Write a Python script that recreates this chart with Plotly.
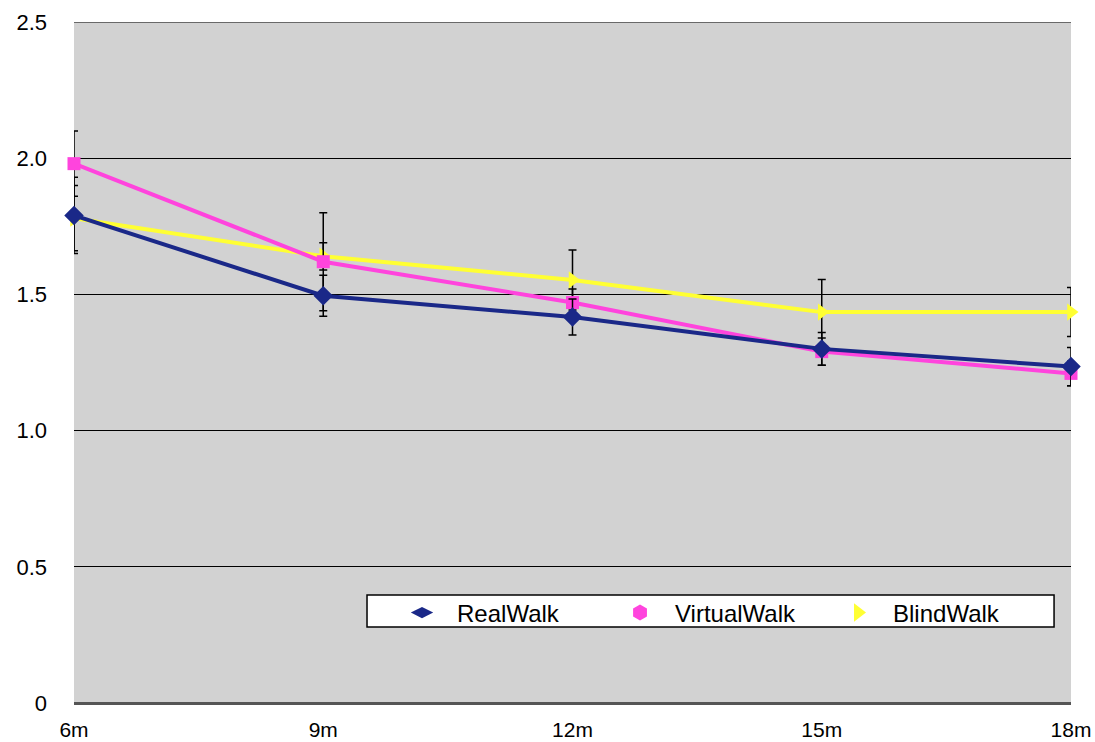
import plotly.graph_objects as go

categories = ["6m", "9m", "12m", "15m", "18m"]

real_walk = [1.79, 1.495, 1.417, 1.30, 1.235]
real_err = [0.14, 0.075, 0.066, 0.06, 0.07]

virtual_walk = [1.98, 1.62, 1.47, 1.29, 1.21]
virtual_err = [0.12, 0.18, 0.05, 0.05, 0.045]

blind_walk = [1.78, 1.64, 1.553, 1.435, 1.435]
blind_err = [0.12, 0.05, 0.11, 0.12, 0.09]

y_ticks = [0, 0.5, 1.0, 1.5, 2.0, 2.5]
y_tick_text = ["0", "0.5", "1.0", "1.5", "2.0", "2.5"]

x_idx = list(range(len(categories)))

fig = go.Figure()

def add_series(name, vals, errs, color, symbol, size):
    fig.add_trace(go.Scatter(
        x=x_idx, y=vals, name=name, mode="lines+markers",
        line=dict(color=color, width=4),
        marker=dict(color=color, symbol=symbol, size=size),
        error_y=dict(type="data", array=errs, visible=True,
                     color="black", thickness=1.5, width=4),
        cliponaxis=False, showlegend=False,
    ))

def add_legend_entry(name, color, symbol, size, rank):
    fig.add_trace(go.Scatter(
        x=[None], y=[None], name=name, mode="markers",
        marker=dict(color=color, symbol=symbol, size=size),
        showlegend=True, legendrank=rank,
    ))

add_series("BlindWalk", blind_walk, blind_err, "#ffff33", "triangle-right", 15)
add_series("VirtualWalk", virtual_walk, virtual_err, "#ff44dd", "square", 13)
add_series("RealWalk", real_walk, real_err, "#1a2888", "diamond", 15)

add_legend_entry("RealWalk", "#1a2888", "diamond-wide", 20, 1)
add_legend_entry("VirtualWalk", "#ff44dd", "hexagon", 17, 2)
add_legend_entry("BlindWalk", "#ffff33", "triangle-right", 17, 3)

fig.add_hline(y=2.5, line=dict(color="black", width=1))

# legend frame
fig.add_shape(type="rect", xref="paper", yref="paper",
              x0=0.2939, x1=0.983, y0=0.1116, y1=0.1586,
              fillcolor="white", line=dict(color="black", width=1.5),
              layer="above")

fig.update_layout(
    width=1095, height=742,
    margin=dict(l=74, r=24, t=22, b=39),
    paper_bgcolor="white",
    plot_bgcolor="#d2d2d2",
    font=dict(family="Liberation Sans, Arial, sans-serif", color="black"),
    showlegend=True,
    legend=dict(
        orientation="h", x=0.2939, xanchor="left", y=0.1322, yanchor="middle",
        bgcolor="rgba(0,0,0,0)", borderwidth=0,
        font=dict(size=24), entrywidth=123, entrywidthmode="pixels",
        itemwidth=60, indentation=20,
    ),
)

fig.update_xaxes(
    tickmode="array", tickvals=x_idx, ticktext=categories,
    range=[0, len(categories) - 1], showgrid=False, zeroline=False,
    showline=False, tickfont=dict(size=21), ticks="", ticklabelstandoff=12,
    automargin=False, ticklabeloverflow="allow",
)
fig.update_yaxes(
    range=[0, 2.5], tickmode="array", tickvals=y_ticks, ticktext=y_tick_text,
    showgrid=True, gridcolor="black", gridwidth=1,
    zeroline=True, zerolinecolor="#555555", zerolinewidth=3,
    showline=False, tickfont=dict(size=22), ticks="", ticklabelstandoff=26,
    automargin=False,
)

# remove the default page margin so the 1095x742 figure fills the window exactly
fig.write_html("out.html",
               config={"displayModeBar": False},
               post_script="document.body.style.margin='0';document.body.style.overflow='hidden';")
